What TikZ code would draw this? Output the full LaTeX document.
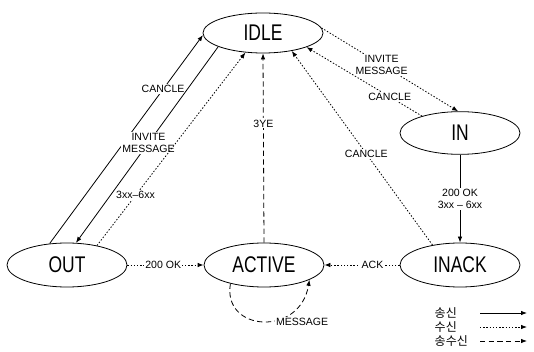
\documentclass[tikz,border=0pt]{standalone}
\usepackage{graphicx}
\usepackage{fontspec}
\setmainfont{Liberation Sans}
\newfontfamily\krfont{Noto Sans CJK KR}
\usetikzlibrary{shapes.geometric,arrows.meta}
\tikzset{
  >={Latex[length=4.5pt,width=3.4pt]},
}
\newcommand{\stname}[1]{\scalebox{.77}[1]{#1}}
\tikzstyle{state}=[ellipse,draw,semithick,minimum width=90pt,minimum height=33pt,inner sep=0pt,font=\fontsize{17}{17}\selectfont]
\tikzstyle{send}=[semithick,->]
\tikzstyle{recv}=[semithick,->,dash pattern=on 1.1pt off 1.3pt]
\tikzstyle{both}=[semithick,->,dash pattern=on 4pt off 2.5pt]
\tikzstyle{lbl}=[fill=white,inner sep=1pt,align=center,font=\fontsize{7.9}{9}\selectfont]
\tikzstyle{legend}=[anchor=west,font=\krfont\fontsize{9}{9}\selectfont]

\begin{document}
\begin{tikzpicture}[x=0.75pt,y=-0.75pt]
    \useasboundingbox (0,0) rectangle (534,352);
    % states
    \node[state,minimum height=30pt] (idle) at (263,33) {\stname{IDLE}};
    \node[state,minimum height=32pt] (in) at (460,133) {\stname{IN}};
    \node[state] (out) at (67,265) {\stname{OUT}};
    \node[state] (active) at (264,265) {\stname{ACTIVE}};
    \node[state] (inack) at (460,265) {\stname{INACK}};
    % outgoing side
    \draw[send] (out.129) -- (idle.182) node[lbl,pos=.74]{CANCLE};
    \draw[send] (idle.197) -- (out.68) node[lbl,pos=.49]{INVITE\\MESSAGE};
    \draw[recv] (out.33) -- (idle.228) node[lbl,pos=.26]{3xx--6xx};
    \draw[recv] (out.0) -- (active.180) node[lbl,pos=.47]{200 OK};
    % incoming side
    \draw[recv] (idle.5) -- (in.95) node[lbl,pos=.44]{INVITE\\MESSAGE};
    \draw[recv] (in.156) -- (idle.342) node[lbl,pos=.28]{CANCLE};
    \draw[send] (in) -- (inack) node[lbl,midway]{200 OK\\3xx -- 6xx};
    \draw[recv] (inack.144) -- (idle.328) node[lbl,pos=.47]{CANCLE};
    \draw[recv] (inack.180) -- (active.0) node[lbl,pos=.36]{ACK};
    % session
    \draw[both] (active.90) -- (idle.270) node[lbl,pos=.63]{3YE};
    \draw[both] (active.209) .. controls (222,332) and (300,337) .. (active.342)
    node[lbl,pos=.72,xshift=10pt,yshift=-6pt]{MESSAGE};
    % legend
    \node[legend] (k1) at (430,313) {송신};
    \node[legend] (k2) at (430,327) {수신};
    \node[legend] (k3) at (430,341) {송수신};
    \coordinate (a1) at (480,313); \coordinate (b1) at (527,313);
    \coordinate (a2) at (480,327); \coordinate (b2) at (527,327);
    \coordinate (a3) at (480,341); \coordinate (b3) at (527,341);
    \draw[send] (a1) -- (b1);
    \draw[recv] (a2) -- (b2);
    \draw[both] (a3) -- (b3);
  \end{tikzpicture}
\end{document}
